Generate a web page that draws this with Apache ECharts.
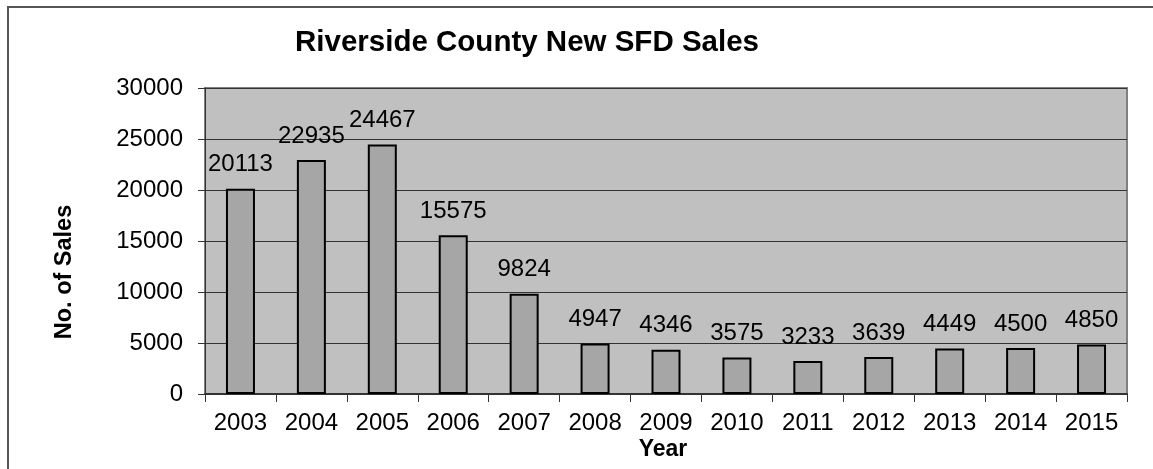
<!DOCTYPE html>
<html>
<head>
<meta charset="utf-8">
<script src="https://cdn.jsdelivr.net/npm/echarts@6/dist/echarts.min.js"></script>
<style>
html,body{margin:0;padding:0;background:#fff;}
#chart{width:1153px;height:469px;}
</style>
</head>
<body>
<div id="chart"></div>
<script>
const years = ['2003','2004','2005','2006','2007','2008','2009','2010','2011','2012','2013','2014','2015'];
const sales = [20113, 22935, 24467, 15575, 9824, 4947, 4346, 3575, 3233, 3639, 4449, 4500, 4850];
const yTicks = [0, 5000, 10000, 15000, 20000, 25000, 30000];
const titleText = 'Riverside County New SFD Sales';
const yName = 'No. of Sales';
const xName = 'Year';

const FONT = '"Liberation Sans", Arial, sans-serif';
const chart = echarts.init(document.getElementById('chart'), null, {renderer: 'canvas'});
chart.setOption({
  animation: false,
  backgroundColor: '#ffffff',
  textStyle: {fontFamily: FONT},
  grid: {
    left: 205, right: 26, top: 88, bottom: 75,
    show: true, backgroundColor: '#C0C0C0', borderColor: '#808080', borderWidth: 2
  },
  graphic: [
    {type: 'polyline', shape: {points: [[8, 480], [8, 7], [1170, 7]]},
     style: {fill: 'none', stroke: '#555555', lineWidth: 2}, z: 100, silent: true},
    {type: 'text', x: 527, y: 43, style: {text: titleText, font: 'bold 29.5px ' + FONT, fill: '#000', align: 'center', verticalAlign: 'middle'}},
    {type: 'text', x: 65, y: 272, rotation: Math.PI / 2, style: {text: yName, font: 'bold 23.5px ' + FONT, fill: '#000', align: 'center', verticalAlign: 'middle'}},
    {type: 'text', x: 663, y: 450, style: {text: xName, font: 'bold 23px ' + FONT, fill: '#000', align: 'center', verticalAlign: 'middle'}}
  ],
  xAxis: {
    type: 'category',
    data: years,
    boundaryGap: true,
    axisLine: {show: true, lineStyle: {color: '#333', width: 2}},
    axisTick: {show: true, alignWithLabel: false, length: 8, lineStyle: {color: '#333', width: 1}},
    axisLabel: {color: '#000', fontSize: 24, fontFamily: FONT, margin: 17, interval: 0},
    splitLine: {show: false}
  },
  yAxis: {
    type: 'value',
    min: yTicks[0], max: yTicks[yTicks.length - 1], interval: yTicks[1] - yTicks[0],
    axisLine: {show: true, lineStyle: {color: '#333', width: 1}},
    axisTick: {show: true, length: 7, lineStyle: {color: '#333', width: 1}},
    axisLabel: {color: '#000', fontSize: 24, fontFamily: FONT, margin: 22, formatter: v => String(v)},
    splitLine: {show: true, lineStyle: {color: '#333', width: 1}}
  },
  series: [{
    type: 'bar',
    data: sales,
    barWidth: 29,
    itemStyle: {color: '#A6A6A6', borderColor: '#000', borderWidth: 2},
    label: {show: true, position: 'top', distance: 12, color: '#000', fontSize: 24, fontFamily: FONT}
  }]
});
</script>
</body>
</html>
